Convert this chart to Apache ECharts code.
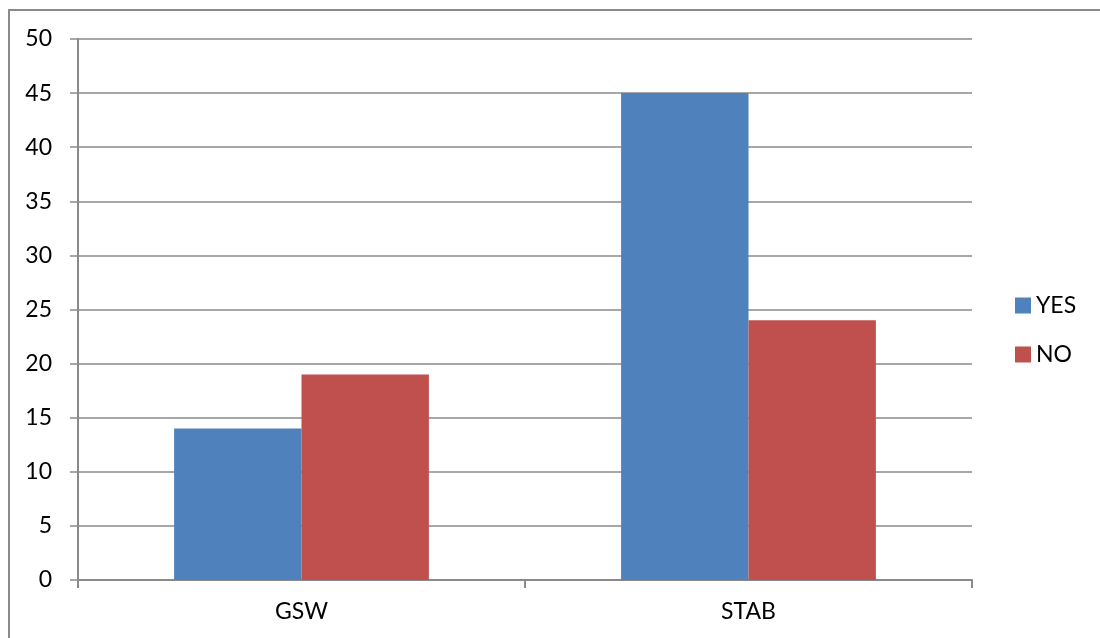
<!DOCTYPE html>
<html>
<head>
<meta charset="utf-8">
<script src="https://cdn.jsdelivr.net/npm/echarts@6/dist/echarts.min.js"></script>
<style>
  html, body { margin: 0; padding: 0; background: #fff; }
  #chart { width: 1100px; height: 638px; }
</style>
</head>
<body>
<div id="chart"></div>
<script>
// Categories and series values
const categories = ['GSW', 'STAB'];
const yesValues = [14, 45];
const noValues = [19, 24];
const seriesNames = ['YES', 'NO'];
const yMin = 0;
const yMax = 50;
const yStep = 5;

const FONT = 'Lato, "Liberation Sans", sans-serif';
const GRID_GRAY = '#8a8a8a';

const chart = echarts.init(document.getElementById('chart'), null, { renderer: 'canvas' });

chart.setOption({
  animation: false,
  backgroundColor: '#ffffff',
  textStyle: { fontFamily: FONT },
  graphic: [{
    type: 'rect',
    shape: { x: 9, y: 10, width: 1200, height: 800 },
    style: { fill: 'none', stroke: GRID_GRAY, lineWidth: 2 },
    silent: true
  }],
  grid: { left: 78, top: 39, right: 128, bottom: 58, containLabel: false },
  legend: {
    orient: 'vertical',
    left: 1010,
    top: 289,
    itemWidth: 16,
    itemHeight: 16,
    itemGap: 26,
    icon: 'rect',
    textStyle: { fontFamily: FONT, fontSize: 23, color: '#000' },
    data: seriesNames
  },
  xAxis: {
    type: 'category',
    data: categories,
    axisLine: { show: true, lineStyle: { color: GRID_GRAY, width: 2 } },
    axisTick: { show: true, length: 8, alignWithLabel: false, lineStyle: { color: GRID_GRAY, width: 2 } },
    axisLabel: { fontFamily: FONT, fontSize: 23, color: '#000', margin: 20 },
    splitLine: { show: false }
  },
  yAxis: {
    type: 'value',
    min: yMin,
    max: yMax,
    interval: yStep,
    axisLine: { show: true, lineStyle: { color: GRID_GRAY, width: 2 } },
    axisTick: { show: true, length: 8, lineStyle: { color: GRID_GRAY, width: 1.5 } },
    axisLabel: { fontFamily: FONT, fontSize: 23, color: '#000', margin: 26 },
    splitLine: { show: true, lineStyle: { color: GRID_GRAY, width: 1.5 } }
  },
  series: [
    {
      name: seriesNames[0],
      type: 'bar',
      data: yesValues,
      barGap: '0%',
      barCategoryGap: '43%',
      itemStyle: { color: '#4F81BD' }
    },
    {
      name: seriesNames[1],
      type: 'bar',
      data: noValues,
      barGap: '0%',
      barCategoryGap: '43%',
      itemStyle: { color: '#C0504D' }
    }
  ]
});
</script>
</body>
</html>
